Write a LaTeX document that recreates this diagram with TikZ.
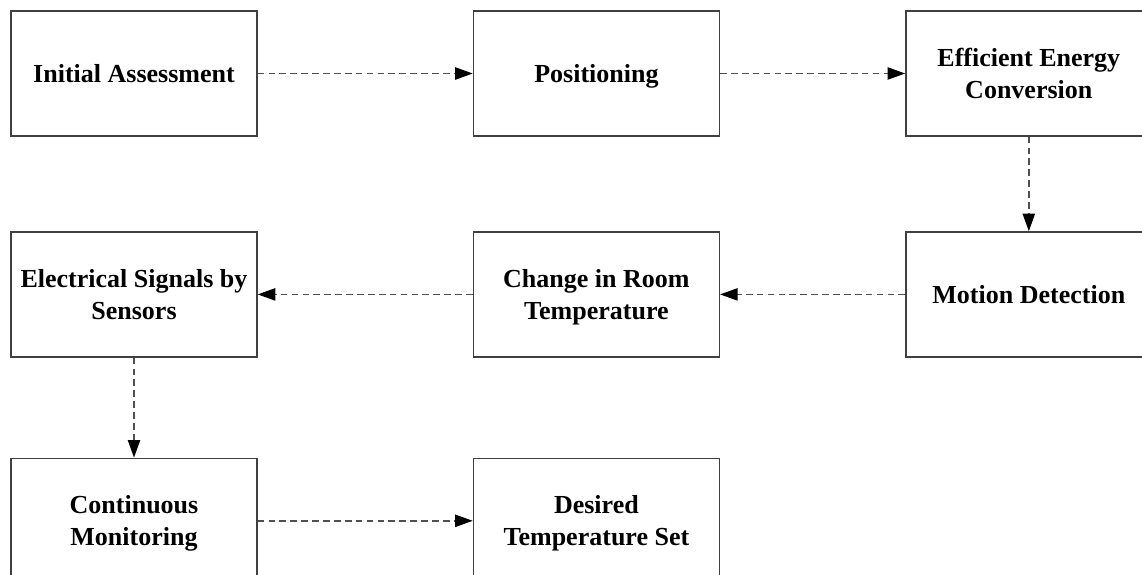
\documentclass[tikz,border=0pt]{standalone}
\usepackage{fontspec}
\setmainfont{Liberation Serif}
\usepackage{xcolor}
\usepackage{tikz}
\usetikzlibrary{positioning,arrows.meta}
\definecolor{boxline}{RGB}{64,64,64}
\definecolor{flowline}{RGB}{80,80,80}

\begin{document}
\begin{tikzpicture}[
      every node/.style={font=\fontsize{14.8}{18.1}\selectfont\bfseries},
      stage/.style={draw=boxline, line width=0.8pt, fill=white, align=center, text depth=0pt, minimum width=4.92cm, minimum height=2.5cm, inner sep=2pt},
      flow/.style={draw=flowline, line width=0.8pt, dash pattern=on 3.8pt off 2.4pt, -{Triangle[length=10pt, width=7pt, color=black]}}
    ]
      \useasboundingbox (0,0) rectangle (22.84,-11.5);

      % Row 1
      \node[stage] (assess) at (2.68,-1.47) {Initial Assessment};
      \node[stage, right=4.3cm of assess] (pos) {Positioning};
      \node[stage, right=3.7cm of pos] (conv) {Efficient Energy\\Conversion};
      % Row 2
      \node[stage, below=1.89cm of conv] (motion) {Motion Detection};
      \node[stage, below=1.89cm of pos] (temp) {Change in Room\\Temperature};
      \node[stage, below=1.89cm of assess] (sens) {Electrical Signals by\\Sensors};
      % Row 3
      \node[stage, below=2.0cm of sens] (monit) {Continuous\\Monitoring};
      \node[stage, right=4.3cm of monit] (desired) {Desired\\Temperature Set};

      \draw[flow] (assess) -- (pos);
      \draw[flow] (pos) -- (conv);
      \draw[flow] (conv) -- (motion);
      \draw[flow] (motion) -- (temp);
      \draw[flow] (temp) -- (sens);
      \draw[flow] (sens) -- (monit);
      \draw[flow] (monit) -- (desired);
    \end{tikzpicture}
\end{document}
